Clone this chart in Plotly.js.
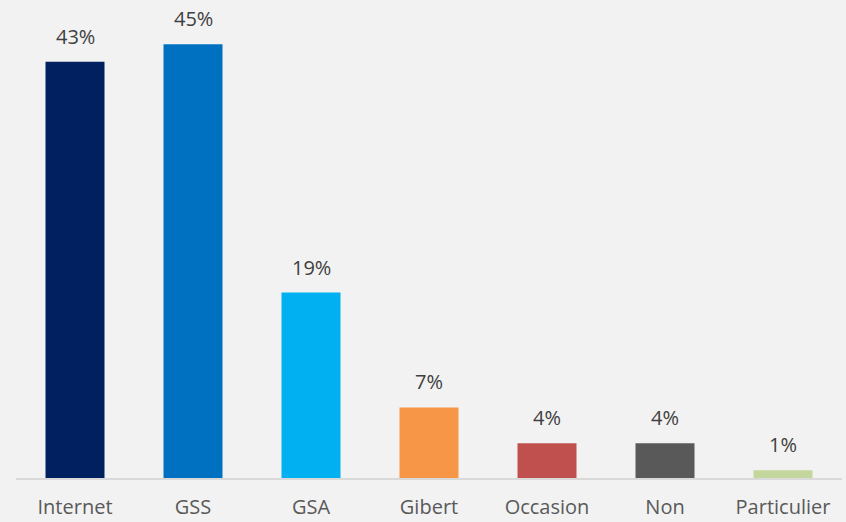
<!DOCTYPE html>
<html>
<head>
<meta charset="utf-8">
<script src="https://cdn.plot.ly/plotly-3.0.1.min.js"></script>
<style>html,body{margin:0;padding:0;background:#f2f2f2;}</style>
</head>
<body>
<div id="chart" style="width:846px;height:522px;"></div>
<script>
const categories = ["Internet", "GSS", "GSA", "Gibert", "Occasion", "Non", "Particulier"];
const values = [43.1, 44.9, 19.2, 7.3, 3.6, 3.6, 0.8];
const labels = ["43%", "45%", "19%", "7%", "4%", "4%", "1%"];
const colors = ["#002060", "#0070c0", "#00b0f0", "#f79646", "#c0504d", "#595959", "#c3d69b"];

const trace = {
  type: "bar",
  x: categories,
  y: values,
  marker: {color: colors},
  hoverinfo: "none"
};

const annotations = categories.map((c, i) => ({
  x: c, y: values[i], xref: "x", yref: "y",
  text: labels[i], showarrow: false,
  yanchor: "bottom", yshift: 10,
  font: {family: "Open Sans, Lato, sans-serif", size: 20, color: "#404040"}
}));

const layout = {
  width: 846, height: 522,
  paper_bgcolor: "#f2f2f2", plot_bgcolor: "#f2f2f2",
  margin: {l: 16, r: 4, t: 24, b: 44},
  bargap: 0.5,
  showlegend: false,
  annotations: annotations,
  xaxis: {
    showline: true, linecolor: "#d9d9d9", linewidth: 2,
    ticks: "outside", ticklen: 10, tickcolor: "rgba(0,0,0,0)",
    tickfont: {family: "Open Sans, Lato, sans-serif", size: 20, color: "#595959"},
    showgrid: false, zeroline: false
  },
  yaxis: {
    range: [0, 47], visible: false, showgrid: false, zeroline: false
  }
};

Plotly.newPlot("chart", [trace], layout, {displayModeBar: false, staticPlot: true});
</script>
</body>
</html>
